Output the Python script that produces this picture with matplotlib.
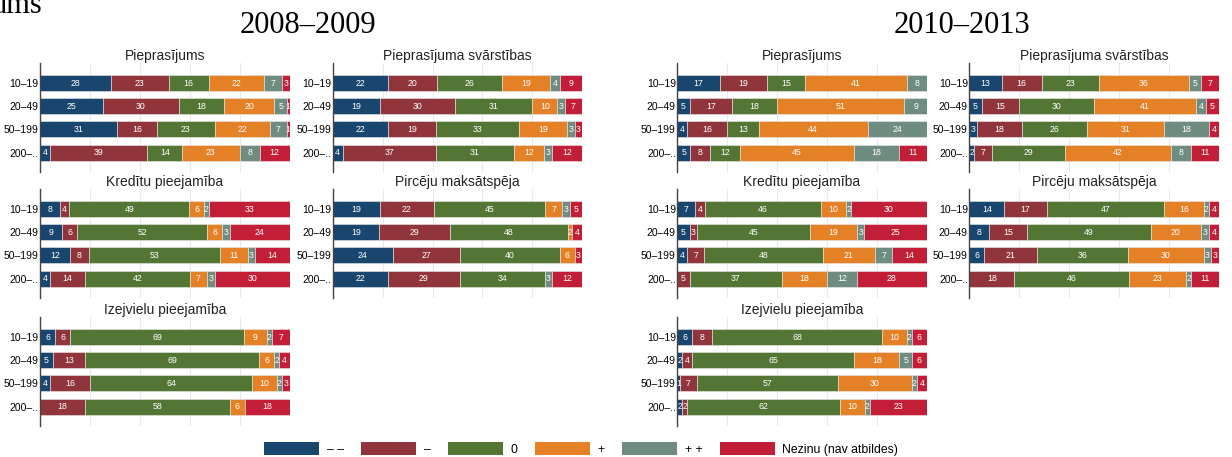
import numpy as np
import matplotlib
matplotlib.use('Agg')
import matplotlib.pyplot as plt
from matplotlib.patches import Patch

# Kategorijas (uzņēmuma lielums) un atbilžu varianti
categories = ['10–19', '20–49', '50–199', '200–..']
answers = ['– –', '–', '0', '+', '+ +', 'Nezinu (nav atbildes)']
colors = ['#19466e', '#91353c', '#537634', '#e48026', '#6e8c80', '#c31e37']

titles = ['Pieprasījums', 'Pieprasījuma svārstības', 'Kredītu pieejamība',
          'Pircēju maksātspēja', 'Izejvielu pieejamība']

# 2008–2009
pieprasijums_0809 = [[28, 23, 16, 22, 7, 3], [25, 30, 18, 20, 5, 1],
                     [31, 16, 23, 22, 7, 1], [4, 39, 14, 23, 8, 12]]
svarstibas_0809 = [[22, 20, 26, 19, 4, 9], [19, 30, 31, 10, 3, 7],
                   [22, 19, 33, 19, 3, 3], [4, 37, 31, 12, 3, 12]]
kreditu_0809 = [[8, 4, 49, 6, 2, 33], [9, 6, 52, 6, 3, 24],
                [12, 8, 53, 11, 3, 14], [4, 14, 42, 7, 3, 30]]
pirceju_0809 = [[19, 22, 45, 7, 3, 5], [19, 29, 48, 2, 0, 4],
                [24, 27, 40, 6, 0, 3], [22, 29, 34, 0, 3, 12]]
izejvielu_0809 = [[6, 6, 69, 9, 2, 7], [5, 13, 69, 6, 2, 4],
                  [4, 16, 64, 10, 2, 3], [0, 18, 58, 6, 0, 18]]

# 2010–2013
pieprasijums_1013 = [[17, 19, 15, 41, 8, 0], [5, 17, 18, 51, 9, 0],
                     [4, 16, 13, 44, 24, 0], [5, 8, 12, 45, 18, 11]]
svarstibas_1013 = [[13, 16, 23, 36, 5, 7], [5, 15, 30, 41, 4, 5],
                   [3, 18, 26, 31, 18, 4], [2, 7, 29, 42, 8, 11]]
kreditu_1013 = [[7, 4, 46, 10, 2, 30], [5, 3, 45, 19, 3, 25],
                [4, 7, 48, 21, 7, 14], [0, 5, 37, 18, 12, 28]]
pirceju_1013 = [[14, 17, 47, 16, 2, 4], [8, 15, 49, 20, 3, 4],
                [6, 21, 36, 30, 3, 3], [0, 18, 46, 23, 2, 11]]
izejvielu_1013 = [[6, 8, 68, 10, 2, 6], [2, 4, 65, 18, 5, 6],
                  [1, 7, 57, 30, 2, 4], [2, 2, 62, 10, 2, 23]]

data_0809 = [pieprasijums_0809, svarstibas_0809, kreditu_0809, pirceju_0809, izejvielu_0809]
data_1013 = [pieprasijums_1013, svarstibas_1013, kreditu_1013, pirceju_1013, izejvielu_1013]

plt.rcParams['font.family'] = ['Liberation Sans', 'DejaVu Sans']

W, H = 1232, 457
fig = plt.figure(figsize=(W / 100, H / 100), dpi=100)

col_left = [40, 332.7, 677.3, 969.3]
panel_w = 249.5
row_top = [63.3, 189.3, 317.3]
panel_h = 109


def draw_panel(ax, values, title):
    vals = np.array(values, dtype=float)
    shares = vals / vals.sum(axis=1, keepdims=True) * 100
    y = np.arange(len(categories))
    left = np.zeros(len(categories))
    for j in range(len(answers)):
        ax.barh(y, shares[:, j], left=left, height=0.69, color=colors[j],
                edgecolor='#e8e8e8', linewidth=0.4, zorder=2)
        for i in range(len(categories)):
            if vals[i, j] > 0:
                ax.text(left[i] + shares[i, j] / 2, y[i], f'{int(vals[i, j])}',
                        ha='center', va='center', color='white', fontsize=6.3, zorder=3)
        left += shares[:, j]
    ax.set_xlim(0, 100)
    ax.set_ylim(3.85, -0.85)
    ax.set_yticks(y)
    ax.set_yticklabels(categories, fontsize=7.5)
    ax.set_xticks(np.arange(0, 101, 20))
    ax.set_xticklabels([])
    ax.tick_params(length=0, pad=1)
    ax.grid(axis='x', color='#e4eaee', linewidth=0.8, zorder=0)
    ax.set_axisbelow(True)
    for s in ['top', 'right', 'bottom']:
        ax.spines[s].set_visible(False)
    ax.spines['left'].set_color('#444444')
    ax.spines['left'].set_linewidth(1.0)
    ax.set_title(title, fontsize=10, pad=2.5, color='#222222')


for g, group in enumerate([data_0809, data_1013]):
    for k, values in enumerate(group):
        r, c = divmod(k, 2)
        x0 = col_left[2 * g + c]
        top = row_top[r]
        ax = fig.add_axes([x0 / W, 1 - (top + panel_h) / H, panel_w / W, panel_h / H])
        draw_panel(ax, values, titles[k])

fig.text(0.25, 1 - 33 / H, '2008–2009', ha='center', va='baseline',
         fontsize=22, family='Liberation Serif')
fig.text(962 / W, 1 - 33 / H, '2010–2013', ha='center', va='baseline',
         fontsize=22, family='Liberation Serif')
fig.text(-8 / W, 1 - 13 / H, 'ums', ha='left', va='baseline',
         fontsize=22, family='Liberation Serif')

handles = [Patch(facecolor=c, edgecolor='none') for c in colors]
fig.legend(handles, answers, loc='center', bbox_to_anchor=(581 / W, 1 - 449 / H),
           ncol=6, frameon=False, fontsize=8.8, handlelength=4.5, handleheight=1.3,
           handletextpad=0.65, columnspacing=1.4, borderpad=0, borderaxespad=0)

fig.savefig('out.png', dpi=100)
